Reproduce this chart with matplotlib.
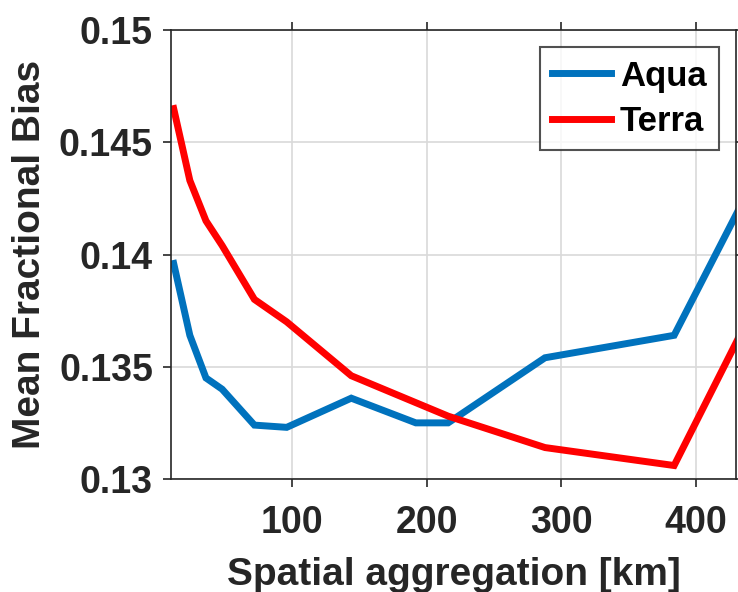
import matplotlib.pyplot as plt

# spatial aggregation [km]
agg_km = [12, 24, 36, 48, 72, 96, 144, 192, 216, 288, 384, 432]

# mean fractional bias
aqua = [0.1396, 0.1364, 0.1345, 0.1340, 0.1324, 0.1323, 0.1336, 0.1325, 0.1325, 0.1354, 0.1364, 0.1420]
terra = [0.1465, 0.1433, 0.1415, 0.1404, 0.1380, 0.1370, 0.1346, 0.1334, 0.1328, 0.1314, 0.1306, 0.1363]

xticks = [100, 200, 300, 400]
yticks = [0.13, 0.135, 0.14, 0.145, 0.15]
ytick_labels = ['0.13', '0.135', '0.14', '0.145', '0.15']

plt.rcParams['font.family'] = ['Liberation Sans', 'DejaVu Sans']
plt.rcParams['font.weight'] = 'bold'

fig = plt.figure(figsize=(7.38, 5.92), dpi=100)
ax = fig.add_axes([0.2317, 0.1909, 0.9973 - 0.2317, 0.9493 - 0.1909])

ax.plot(agg_km, aqua, color='#0072BD', lw=5, label='Aqua', solid_joinstyle='miter')
ax.plot(agg_km, terra, color='#FF0000', lw=5, label='Terra', solid_joinstyle='miter')

ax.set_xlim(10, 430)
ax.set_ylim(0.13, 0.15)
ax.set_xticks(xticks)
ax.set_yticks(yticks)
ax.set_yticklabels(ytick_labels)

txt = '#262626'
ax.tick_params(axis='both', labelsize=27, colors=txt, direction='out', length=6, width=1.2,
               top=True, right=True)
ax.tick_params(axis='x', pad=13)
ax.tick_params(axis='y', pad=7)
for lab in ax.get_xticklabels() + ax.get_yticklabels():
    lab.set_fontweight('bold')
for s in ax.spines.values():
    s.set_color(txt)
    s.set_linewidth(1.2)

ax.grid(True, color='#d9d9d9', lw=1.2)
ax.set_axisbelow(True)

ax.set_xlabel('Spatial aggregation [km]', fontsize=28, fontweight='bold', color=txt, labelpad=11)
ax.set_ylabel('Mean Fractional Bias', fontsize=28, fontweight='bold', color=txt, labelpad=8)

leg = ax.legend(loc='upper right', fontsize=25, frameon=True, fancybox=False,
                handlelength=1.7, handletextpad=0.25, borderpad=0.35, labelspacing=0.35,
                borderaxespad=0.5)
leg.get_frame().set_edgecolor(txt)
leg.get_frame().set_linewidth(1.5)
for t in leg.get_texts():
    t.set_fontweight('bold')
    t.set_color('black')

fig.savefig('out.png', dpi=100)
